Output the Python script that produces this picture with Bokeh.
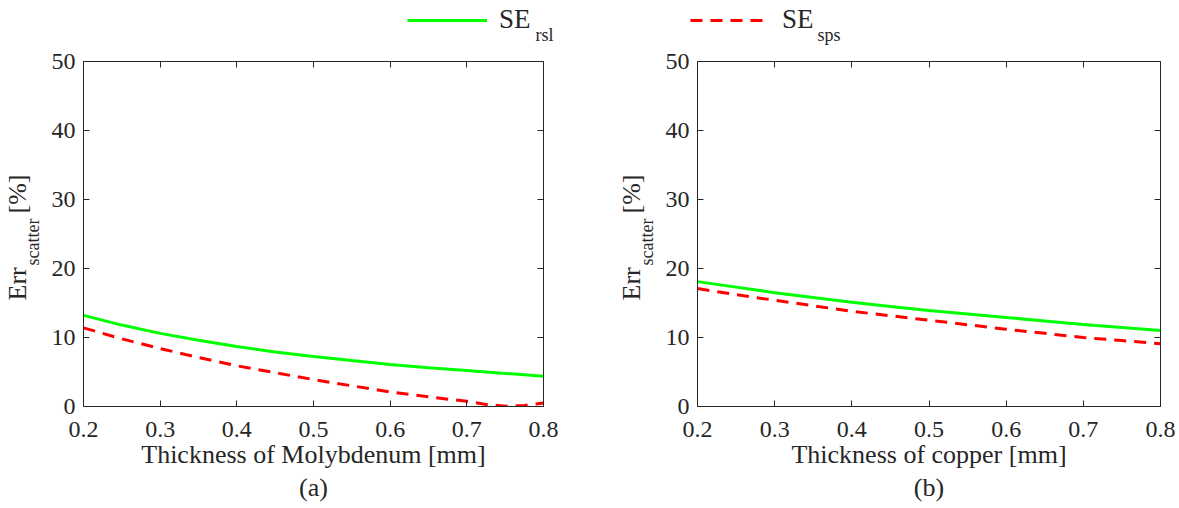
from bokeh.plotting import figure
from bokeh.models import (Legend, LegendItem, Label, LinearAxis, FixedTicker,
                          Range1d, CustomJSTickFormatter)
from bokeh.layouts import column, row
from bokeh.embed import file_html
from bokeh.resources import INLINE

# ---------------- data ----------------
thickness = [0.20, 0.25, 0.30, 0.35, 0.40, 0.45, 0.50, 0.55, 0.60, 0.65, 0.70, 0.75, 0.80]

mo_rsl = [13.2, 11.8, 10.6, 9.6, 8.7, 7.9, 7.25, 6.65, 6.1, 5.6, 5.2, 4.8, 4.4]
mo_sps_x = [0.20, 0.25, 0.30, 0.35, 0.40, 0.45, 0.50, 0.55, 0.60, 0.65, 0.70, 0.725, 0.75, 0.775, 0.80]
mo_sps = [11.4, 9.8, 8.4, 7.1, 5.9, 4.9, 3.9, 3.0, 2.1, 1.4, 0.75, 0.3, 0.05, 0.15, 0.5]

cu_rsl = [18.1, 17.3, 16.5, 15.8, 15.1, 14.5, 13.9, 13.4, 12.9, 12.4, 11.9, 11.45, 11.0]
cu_sps = [17.1, 16.2, 15.4, 14.6, 13.8, 13.15, 12.5, 11.85, 11.2, 10.6, 10.0, 9.55, 9.1]

x_ticks = [0.2, 0.3, 0.4, 0.5, 0.6, 0.7, 0.8]
y_ticks = [0, 10, 20, 30, 40, 50]

xlabels = ["Thickness of Molybdenum [mm]", "Thickness of copper [mm]"]
tags = ["(a)", "(b)"]
legend_main = "SE"
legend_subs = ["rsl", "sps"]
ylabel_parts = ["Err", "scatter", "[%]"]

FONT = "Liberation Serif"
TXT = "#262626"
GREEN = "#00ff00"
RED = "#ff0000"
DASH = "12 8"
ROW_H = 460


def style_axis(ax, ticks, show_labels=True):
    ax.ticker = FixedTicker(ticks=ticks)
    ax.axis_line_color = TXT
    ax.axis_line_width = 1
    ax.major_tick_line_color = TXT
    ax.major_tick_in = 6
    ax.major_tick_out = 0
    ax.minor_tick_line_color = None
    ax.major_label_text_font = FONT
    ax.major_label_text_font_style = "normal"
    ax.major_label_text_font_size = "24px"
    ax.major_label_text_color = TXT
    if not show_labels:
        ax.formatter = CustomJSTickFormatter(code="return ''")
        ax.major_label_standoff = 0


def make_panel(width, mb_left, mb_right, xs_rsl, rsl, xs_sps, sps, xlabel, tag):
    p = figure(width=width, height=ROW_H, x_range=Range1d(0.2, 0.8), y_range=Range1d(0, 50),
               output_backend="svg", toolbar_location=None,
               min_border_left=mb_left, min_border_right=mb_right,
               min_border_top=13, min_border_bottom=102)
    p.grid.visible = False
    p.outline_line_color = None

    p.line(xs_rsl, rsl, line_color=GREEN, line_width=3)
    p.line(xs_sps, sps, line_color=RED, line_width=3, line_dash=DASH)

    style_axis(p.xaxis[0], x_ticks)
    style_axis(p.yaxis[0], y_ticks)
    p.xaxis[0].major_label_standoff = 15
    p.yaxis[0].major_label_standoff = 8
    p.xaxis[0].axis_label = xlabel + "\n" + tag
    p.xaxis[0].axis_label_text_font = FONT
    p.xaxis[0].axis_label_text_font_size = "26px"
    p.xaxis[0].axis_label_text_font_style = "normal"
    p.xaxis[0].axis_label_text_color = TXT
    p.xaxis[0].axis_label_text_line_height = 1.15
    p.xaxis[0].axis_label_standoff = 0

    top = LinearAxis()
    style_axis(top, x_ticks, show_labels=False)
    p.add_layout(top, "above")
    right = LinearAxis()
    style_axis(right, y_ticks, show_labels=False)
    p.add_layout(right, "right")
    return p


def make_ylabel_strip(width):
    s = figure(width=width, height=ROW_H, x_range=Range1d(0, 1), y_range=Range1d(0, 1),
               x_axis_type=None, y_axis_type=None, min_border=0,
               toolbar_location=None, output_backend="svg")
    s.outline_line_color = None
    s.grid.visible = False
    common = dict(x_units="screen", y_units="screen", angle=1.5707963,
                  text_align="left", text_baseline="alphabetic",
                  text_font=FONT, text_color=TXT)
    s.add_layout(Label(x=17, y=106, text=ylabel_parts[0], text_font_size="26px", **common))
    s.add_layout(Label(x=32, y=141, text=ylabel_parts[1], text_font_size="18px", **common))
    s.add_layout(Label(x=17, y=193, text=ylabel_parts[2], text_font_size="26px", **common))
    return s


p1 = make_panel(570, 39, 71, thickness, mo_rsl, mo_sps_x, mo_sps, xlabels[0], tags[0])
p2 = make_panel(521, 39, 19, thickness, cu_rsl, thickness, cu_sps, xlabels[1], tags[1])
s1 = make_ylabel_strip(44)
s2 = make_ylabel_strip(44)

# ---------------- legend strip ----------------
lf = figure(width=1179, height=48, x_range=Range1d(0, 1), y_range=Range1d(100, 101),
            x_axis_type=None, y_axis_type=None, min_border=0,
            toolbar_location=None, output_backend="svg")
lf.outline_line_color = None
lf.grid.visible = False
# renderers carry the real series (kept out of this strip's view) so the legend shows their styles
r1 = lf.line(thickness, mo_rsl, line_color=GREEN, line_width=3)
r2 = lf.line(mo_sps_x, mo_sps, line_color=RED, line_width=3, line_dash=DASH)
legend = Legend(items=[LegendItem(label=legend_main, renderers=[r1]),
                       LegendItem(label=legend_main, renderers=[r2])],
                orientation="horizontal", location=(407, 13), padding=0, margin=0,
                spacing=0, glyph_width=80, glyph_height=24, label_standoff=12,
                label_width=191, label_height=24,
                border_line_color=None, background_fill_alpha=0,
                label_text_font=FONT, label_text_font_size="27px", label_text_color=TXT)
lf.add_layout(legend, "center")
for sx, sub in zip([535, 817], legend_subs):
    lf.add_layout(Label(x=sx, y=14, x_units="screen", y_units="screen", text=sub,
                        text_align="left", text_baseline="alphabetic",
                        text_font=FONT, text_font_size="18px", text_color=TXT))

layout = column(lf, row(s1, p1, s2, p2))
open("out.html", "w").write(file_html(layout, INLINE))
